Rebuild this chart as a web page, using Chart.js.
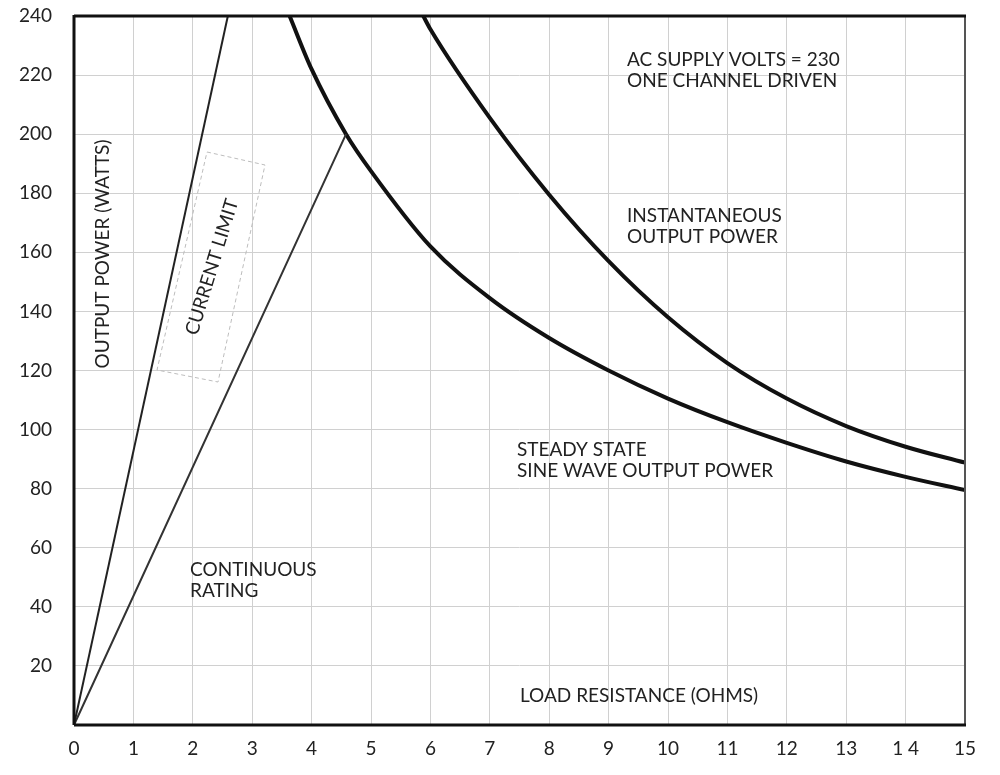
<!DOCTYPE html>
<html>
<head>
<meta charset="utf-8">
<script src="https://cdn.jsdelivr.net/npm/chart.js@4/dist/chart.umd.min.js"></script>
<style>
html,body{margin:0;padding:0;background:#fff;}
canvas{display:block;}
</style>
</head>
<body>
<canvas id="c" width="1000" height="775"></canvas>
<script>
// ---- data ----
const xTickLabels = ['0','1','2','3','4','5','6','7','8','9','10','11','12','13','1 4','15'];
const yTickLabels = ['', '20','40','60','80','100','120','140','160','180','200','220','240'];

const currentLimitX = [0, 2.59];
const currentLimitY = [0, 240];

const continuousX = [0, 4.58];
const continuousY = [0, 200];

const steadyX = [3.63, 4, 4.58, 5, 6, 7, 8, 9, 10, 11, 12, 13, 14, 15];
const steadyY = [240, 222, 200, 187.5, 162, 144.5, 131, 120, 110.5, 102.5, 95.5, 89.2, 84, 79.5];

const instX = [5.88, 6, 7, 8, 9, 10, 11, 12, 13, 14, 15];
const instY = [240, 235.5, 205.5, 179.5, 157, 138, 122.5, 110.5, 101.2, 94.2, 88.8];

const pts = (xs, ys) => xs.map((x, i) => ({x: x, y: ys[i]}));

const FONT = 'Lato, "Open Sans", sans-serif';
const INK = '#222';

const annotations = [
  {lines: ['AC SUPPLY VOLTS = 230', 'ONE CHANNEL DRIVEN'], x: 627, y: 60},
  {lines: ['INSTANTANEOUS', 'OUTPUT POWER'], x: 627, y: 216},
  {lines: ['STEADY STATE', 'SINE WAVE OUTPUT POWER'], x: 517, y: 450},
  {lines: ['CONTINUOUS', 'RATING'], x: 190, y: 570},
  {lines: ['LOAD RESISTANCE (OHMS)'], x: 520, y: 696}
];

const decor = {
  id: 'decor',
  beforeDatasetsDraw(chart) {
    const ctx = chart.ctx;
    ctx.save();
    ctx.strokeStyle = '#bdbdbd';
    ctx.lineWidth = 1;
    ctx.setLineDash([4, 3]);
    ctx.beginPath();
    ctx.moveTo(207, 152); ctx.lineTo(265, 165); ctx.lineTo(218, 382); ctx.lineTo(157, 370); ctx.closePath();
    ctx.stroke();
    ctx.restore();
  },
  afterDatasetsDraw(chart) {
    const ctx = chart.ctx;
    const a = chart.chartArea;
    ctx.save();
    ctx.strokeStyle = '#555';
    ctx.lineWidth = 2;
    ctx.beginPath(); ctx.moveTo(a.right, a.top); ctx.lineTo(a.right, a.bottom); ctx.stroke();
    ctx.strokeStyle = '#111';
    ctx.lineWidth = 3;
    ctx.beginPath(); ctx.moveTo(a.left, a.top); ctx.lineTo(a.right + 1, a.top); ctx.stroke();
    ctx.beginPath(); ctx.moveTo(a.left, a.top - 1); ctx.lineTo(a.left, a.bottom); ctx.stroke();
    ctx.beginPath(); ctx.moveTo(a.left, a.bottom); ctx.lineTo(a.right + 1, a.bottom); ctx.stroke();

    ctx.fillStyle = INK;
    ctx.font = '19px ' + FONT;
    ctx.textBaseline = 'middle';
    ctx.textAlign = 'left';
    annotations.forEach(an => {
      an.lines.forEach((t, i) => ctx.fillText(t, an.x, an.y + i * 21));
    });

    ctx.textAlign = 'center';
    ctx.save();
    ctx.translate(103, 254);
    ctx.rotate(-Math.PI / 2);
    ctx.fillText('OUTPUT POWER (WATTS)', 0, 0);
    ctx.restore();

    ctx.save();
    ctx.translate(212, 267);
    ctx.rotate(-73 * Math.PI / 180);
    ctx.fillText('CURRENT LIMIT', 0, 0);
    ctx.restore();
    ctx.restore();
  }
};

const lineDs = (label, data, width, color) => ({
  label: label,
  data: data,
  showLine: true,
  borderColor: color,
  borderWidth: width,
  pointRadius: 0,
  fill: false,
  cubicInterpolationMode: 'monotone'
});

new Chart(document.getElementById('c'), {
  type: 'scatter',
  data: {
    datasets: [
      lineDs('Current limit', pts(currentLimitX, currentLimitY), 2, '#222'),
      lineDs('Continuous rating', pts(continuousX, continuousY), 2, '#333'),
      lineDs('Steady state sine wave output power', pts(steadyX, steadyY), 4, '#111'),
      lineDs('Instantaneous output power', pts(instX, instY), 4, '#111')
    ]
  },
  options: {
    responsive: false,
    animation: false,
    devicePixelRatio: 1,
    layout: {padding: {top: 16, right: 35, left: 0, bottom: 0}},
    plugins: {legend: {display: false}, tooltip: {enabled: false}},
    scales: {
      x: {
        type: 'linear', min: 0, max: 15,
        afterFit: s => { s.height = 50; s.paddingLeft = 0; s.paddingRight = 0; },
        afterBuildTicks: s => { s.ticks = xTickLabels.map((t, i) => ({value: i})); },
        ticks: {
          stepSize: 1, padding: 12, color: INK, maxRotation: 0, autoSkip: false,
          font: {family: FONT, size: 19},
          callback: (v) => xTickLabels[v]
        },
        grid: {color: '#d0d0d0', lineWidth: 1, drawTicks: false},
        border: {display: false}
      },
      y: {
        type: 'linear', min: 0, max: 240,
        afterFit: s => { s.width = 74; s.paddingTop = 0; s.paddingBottom = 0; },
        afterBuildTicks: s => { s.ticks = yTickLabels.map((t, i) => ({value: i * 20})); },
        ticks: {
          stepSize: 20, padding: 22, color: INK,
          font: {family: FONT, size: 19},
          callback: (v) => yTickLabels[v / 20]
        },
        grid: {color: '#d0d0d0', lineWidth: 1, drawTicks: false},
        border: {display: false}
      }
    }
  },
  plugins: [decor]
});
</script>
</body>
</html>
